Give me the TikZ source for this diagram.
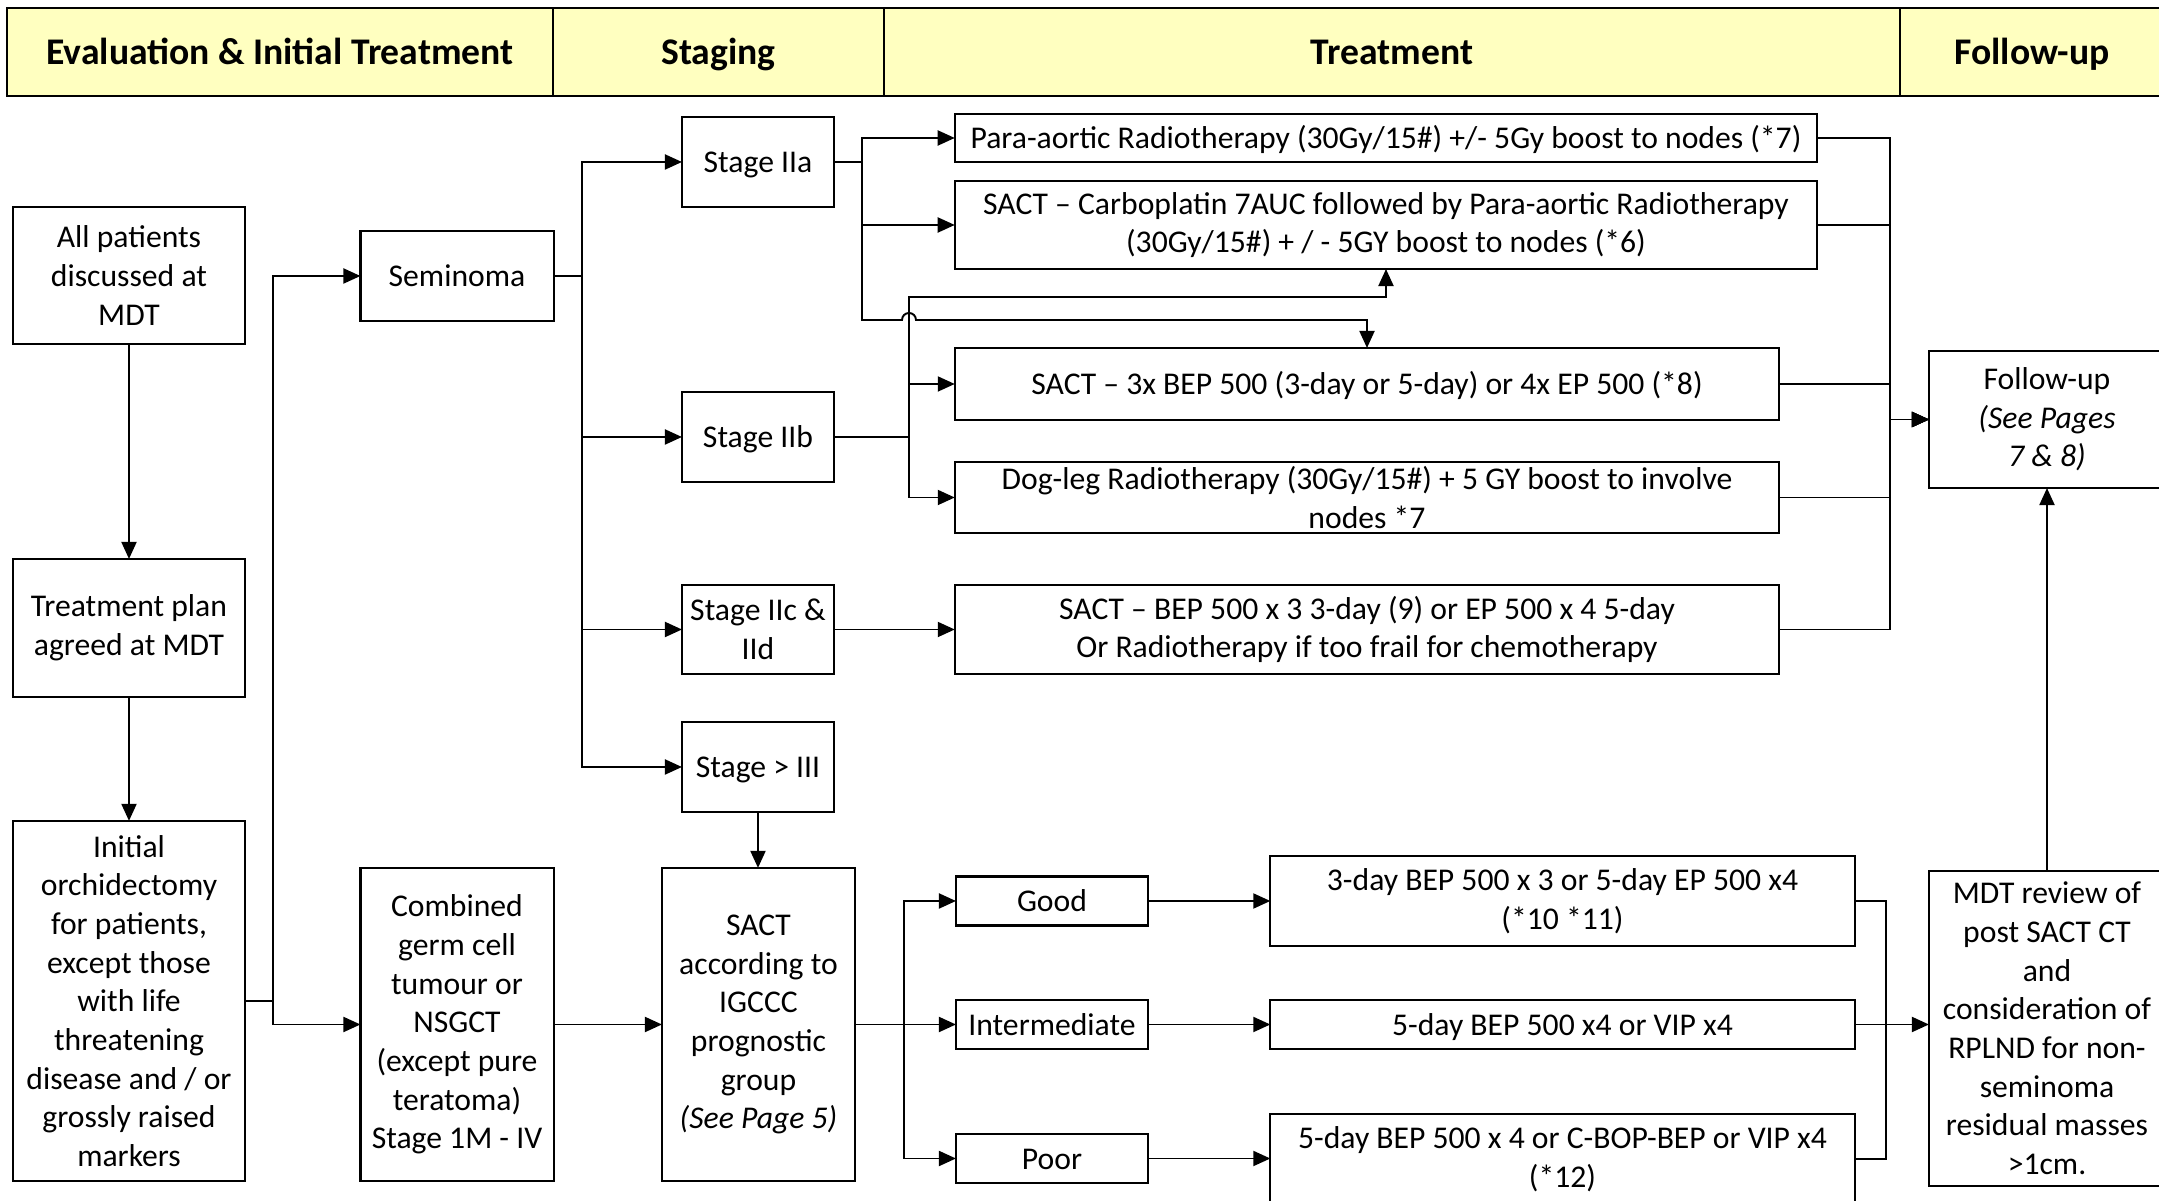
\documentclass[tikz,border=0pt]{standalone}
\usepackage{fontspec}
\setmainfont{Carlito}
\usetikzlibrary{arrows.meta}
\definecolor{hdryellow}{RGB}{255,255,192}
\newcommand{\bodysize}{\fontsize{9}{11}\selectfont}
\newcommand{\topstrut}{\rule{0pt}{0.95em}}
\newcommand{\botstrut}{\rule[-0.27em]{0pt}{0.27em}}
\tikzset{
  box/.style={draw, line width=0.6pt, align=center, inner sep=0pt, outer sep=0pt, font=\bodysize},
  oneline/.style={execute at begin node=\topstrut, execute at end node=\botstrut},
  hdr/.style={draw, line width=0.6pt, fill=hdryellow, minimum height=0.88cm, inner sep=0pt, outer sep=0pt,
              font=\fontsize{10.7}{13}\selectfont\bfseries, oneline},
  wire/.style={line width=0.55pt},
  conn/.style={wire, -{Triangle[length=0.17cm,width=0.15cm]}}
}

\begin{document}
\begin{tikzpicture}[x=0.01cm, y=-0.01cm]
\useasboundingbox (0,0) rectangle (2159,1201);
\clip (0,0) rectangle (2159,1201);

% Header
\node[hdr, minimum width=5.46cm]  (hEval)   at (280,52)    {Evaluation \& Initial Treatment};
\node[hdr, minimum width=3.31cm]  (hStage)  at (718.5,52)  {Staging};
\node[hdr, minimum width=10.16cm] (hTreat)  at (1392,52)   {Treatment};
\node[hdr, minimum width=2.64cm]  (hFollow) at (2032,52)   {Follow-up};

\node[box, minimum width=2.32cm, minimum height=1.37cm] (allpts) at (129,275.5) {All patients\\discussed at\\MDT};
\node[box, minimum width=2.32cm, minimum height=1.38cm] (plan)   at (129,628)   {Treatment plan\\agreed at MDT};
\node[box, minimum width=2.32cm, minimum height=3.60cm] (orch)   at (129,1001)
  {Initial\\orchidectomy\\for patients,\\except those\\with life\\threatening\\disease and / or\\grossly raised\\markers};

\node[box, oneline, minimum width=1.93cm, minimum height=0.90cm] (semin) at (457,276) {Seminoma};
\node[box, minimum width=1.93cm, minimum height=3.13cm] (comb)  at (457,1024.5)
  {Combined\\germ cell\\tumour or\\NSGCT\\(except pure\\teratoma)\\Stage 1M - IV};

\node[box, oneline, minimum width=1.52cm, minimum height=0.90cm] (s2a) at (758,162)   {Stage IIa};
\node[box, oneline, minimum width=1.52cm, minimum height=0.90cm] (s2b) at (758,437)   {Stage IIb};
\node[box, minimum width=1.52cm, minimum height=0.89cm] (s2c) at (758,629.5) {Stage IIc \&\\IId};
\node[box, oneline, minimum width=1.52cm, minimum height=0.90cm] (s3)  at (758,767)   {Stage > III};
\node[box, minimum width=1.93cm, minimum height=3.13cm] (sactig) at (758.5,1024.5)
  {SACT\\according to\\IGCCC\\prognostic\\group\\\textit{(See Page 5)}};

\node[box, oneline, minimum width=8.62cm, minimum height=0.48cm] (pa)     at (1386,138)
  {Para-aortic Radiotherapy (30Gy/15\#) +/- 5Gy boost to nodes (*7)};
\node[box, minimum width=8.62cm, minimum height=0.88cm] (carbo)  at (1386,225)
  {SACT – Carboplatin 7AUC followed by Para-aortic Radiotherapy\\(30Gy/15\#) + / - 5GY boost to nodes (*6)};
\node[box, oneline, minimum width=8.24cm, minimum height=0.72cm] (bep3)   at (1367,384)
  {SACT – 3x BEP 500 (3-day or 5-day) or 4x EP 500 (*8)};
\node[box, minimum width=8.24cm, minimum height=0.71cm] (dogleg) at (1367,497.5)
  {Dog-leg Radiotherapy (30Gy/15\#) + 5 GY boost to involve\\nodes *7};
\node[box, minimum width=8.24cm, minimum height=0.89cm] (bepc)   at (1367,629.5)
  {SACT – BEP 500 x 3 3-day (9) or EP 500 x 4 5-day\\Or Radiotherapy if too frail for chemotherapy};

\node[box, oneline, minimum width=1.92cm, minimum height=0.49cm] (good)  at (1052,901)    {Good};
\node[box, oneline, minimum width=1.92cm, minimum height=0.49cm] (inter) at (1052,1024.5) {Intermediate};
\node[box, oneline, minimum width=1.92cm, minimum height=0.49cm] (poor)  at (1052,1158.5) {Poor};

\node[box, minimum width=5.84cm, minimum height=0.90cm] (bep1) at (1562.5,901)    {3-day BEP 500 x 3 or 5-day EP 500 x4\\(*10 *11)};
\node[box, oneline, minimum width=5.84cm, minimum height=0.49cm] (bep2) at (1562.5,1024.5) {5-day BEP 500 x4 or VIP x4};
\node[box, minimum width=5.84cm, minimum height=0.90cm] (bep4) at (1562.5,1159)   {5-day BEP 500 x 4 or C-BOP-BEP or VIP x4\\(*12)};

\node[box, minimum width=2.36cm, minimum height=1.37cm] (fu)   at (2047,419.5)
  {Follow-up\\\textit{(See Pages}\\\textit{7 \& 8)}};
\node[box, minimum width=2.36cm, minimum height=3.15cm] (mdtr) at (2047,1028.5)
  {MDT review of\\post SACT CT\\and\\consideration of\\RPLND for non-\\seminoma\\residual masses\\>1cm.};

% Connectors
\coordinate (xOrch) at (273,0);
\coordinate (xSem)  at (582,0);
\coordinate (xIIa)  at (862,0);
\coordinate (xIIb)  at (909,0);
\coordinate (xSact) at (904,0);
\coordinate (xTop)  at (1890,0);
\coordinate (xBot)  at (1886,0);
\coordinate (yIIa)  at (0,320);
\coordinate (yIIb)  at (0,297);
\coordinate (hop)   at (909,320);

\draw[conn] (allpts) -- (plan);
\draw[conn] (plan) -- (orch);
\draw[conn] (orch.east) -- (orch.east -| xOrch) |- (semin.west);
\draw[conn] (orch.east) -- (orch.east -| xOrch) |- (comb.west);

\foreach \n in {s2a,s2b,s2c,s3}
  \draw[conn] (semin.east) -- (semin.east -| xSem) |- (\n.west);

\draw[conn] (s2a.east) -- (s2a.east -| xIIa) |- (pa.west);
\draw[conn] (s2a.east) -- (s2a.east -| xIIa) |- (carbo.west);
\draw[conn] (s2a.east) -| (xIIa |- yIIa) -- ([xshift=-0.07cm]hop)
  arc[start angle=180, end angle=0, radius=0.07cm] -- (bep3.north |- yIIa) -- (bep3.north);

\draw[conn] (s2b.east) -| (xIIb |- yIIb) -- (carbo.south |- yIIb) -- (carbo.south);
\draw[conn] (s2b.east) -- (s2b.east -| xIIb) |- (bep3.west);
\draw[conn] (s2b.east) -- (s2b.east -| xIIb) |- (dogleg.west);
\draw[conn] (s2c) -- (bepc);

\draw[conn] (s3.south) -- (s3.south |- sactig.north);
\draw[conn] (comb) -- (sactig);
\foreach \n in {good,inter,poor}
  \draw[conn] (sactig.east) -- (sactig.east -| xSact) |- (\n.west);
\draw[conn] (good) -- (bep1);
\draw[conn] (inter) -- (bep2);
\draw[conn] (poor.east) -- (poor.east -| bep4.west);

\foreach \n in {pa,carbo,bep3,dogleg,bepc}
  \draw[conn] (\n.east) -| (xTop |- fu.west) -- (fu.west);
\draw[wire] (bep1.east) -| (xBot |- bep2.east);
\draw[wire] (bep4.east) -| (xBot |- bep2.east);
\draw[conn] (bep2.east) -- (bep2.east -| mdtr.west);
\draw[conn] (mdtr.north) -- (fu.south);
\end{tikzpicture}
\end{document}
